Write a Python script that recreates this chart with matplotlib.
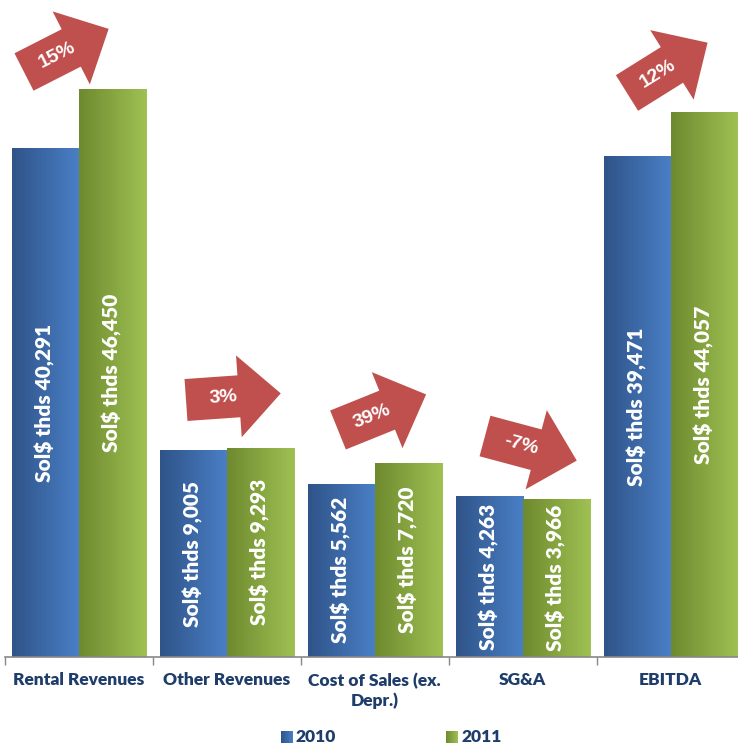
import numpy as np
import matplotlib.pyplot as plt
from matplotlib.patches import Polygon, Rectangle
from matplotlib.colors import LinearSegmentedColormap

categories = ['Rental Revenues', 'Other Revenues', 'Cost of Sales (ex.\nDepr.)', 'SG&A', 'EBITDA']
v2010 = [40291, 9005, 5562, 4263, 39471]
v2011 = [46450, 9293, 7720, 3966, 44057]
growth = ['15%', '3%', '39%', '-7%', '12%']

# arrow placement in pixels: tail centre x, y and angle (deg)
arrow_tail = [(24, 72), (186, 400), (338, 430), (485, 436), (627, 93)]
arrow_ang = [27, 4, 22, -15, 32]

base = -12400
ytop = 55670
navy = '#1f3d6b'
lab_font = 'Lato'

fig = plt.figure(figsize=(7.38, 7.44), dpi=100)
ax = fig.add_axes([4.7 / 738, 87 / 744, 740 / 738, 657 / 744])

blue_cm = LinearSegmentedColormap.from_list('b', ['#2f5489', '#4a7fc6'])
green_cm = LinearSegmentedColormap.from_list('g', ['#6e8a2f', '#9fc153'])
grad = np.linspace(0, 1, 64).reshape(1, -1)

x = np.arange(len(categories))
w = 0.453
for vals, off, cm in [(v2010, -w / 2, blue_cm), (v2011, w / 2, green_cm)]:
    bars = ax.bar(x + off, np.array(vals) - base, w, bottom=base, color='none')
    for b, v in zip(bars, vals):
        x0 = b.get_x()
        im = ax.imshow(grad, cmap=cm, aspect='auto', extent=[x0, x0 + w, base, v], zorder=2)
        im.set_clip_path(b)
        ax.text(x0 + w / 2, (base + v) / 2, 'Sol$ thds {:,}'.format(v), rotation=90,
                ha='center', va='center', color='white', fontsize=15,
                fontweight='heavy', family=lab_font, zorder=3)

ax.set_xlim(-0.5, len(categories) - 0.5)
ax.set_ylim(base, ytop)
ax.set_xticks(x)
ax.set_xticklabels(categories, fontsize=12.5, fontweight='heavy', color=navy, family=lab_font,
                   linespacing=1.25)
ax.tick_params(axis='x', which='major', length=0, pad=11)
ax.set_xticks(np.arange(len(categories)) - 0.5, minor=True)
ax.tick_params(axis='x', which='minor', length=6, color='#888888', width=1)
ax.set_yticks([])
for s in ['top', 'right', 'left']:
    ax.spines[s].set_visible(False)
ax.spines['bottom'].set_color('#888888')
ax.spines['bottom'].set_linewidth(1.2)

# overlay in pixel coordinates for arrows and legend
ov = fig.add_axes([0, 0, 1, 1], facecolor='none')
ov.set_xlim(0, 738)
ov.set_ylim(744, 0)
ov.axis('off')

L, hl, sw, hw = 95, 42, 42, 82
for (tx, ty), a, txt in zip(arrow_tail, arrow_ang, growth):
    t = np.radians(a)
    d = np.array([np.cos(t), -np.sin(t)])
    n = np.array([np.sin(t), np.cos(t)])
    p0 = np.array([tx, ty])
    pts = [p0 - n * sw / 2, p0 + d * (L - hl) - n * sw / 2, p0 + d * (L - hl) - n * hw / 2,
           p0 + d * L, p0 + d * (L - hl) + n * hw / 2, p0 + d * (L - hl) + n * sw / 2,
           p0 + n * sw / 2]
    ov.add_patch(Polygon(pts, closed=True, facecolor='#c0504d', edgecolor='none'))
    c = p0 + d * 37
    ov.text(c[0], c[1], txt, rotation=a, ha='center', va='center', color='white',
            fontsize=14, fontweight='bold', family='Liberation Sans', rotation_mode='anchor')

# legend
for lx, cm, lab in [(281, blue_cm, '2010'), (446, green_cm, '2011')]:
    sq = Rectangle((lx, 731), 12, 12, facecolor='none', edgecolor='none')
    ov.add_patch(sq)
    im = ov.imshow(grad, cmap=cm, aspect='auto', extent=[lx, lx + 12, 743, 731])
    im.set_clip_path(sq)
    ov.text(lx + 15, 737, lab, ha='left', va='center', fontsize=12.5, fontweight='heavy',
            color=navy, family=lab_font)
ov.set_xlim(0, 738)
ov.set_ylim(744, 0)

fig.savefig('out.png', dpi=100)
